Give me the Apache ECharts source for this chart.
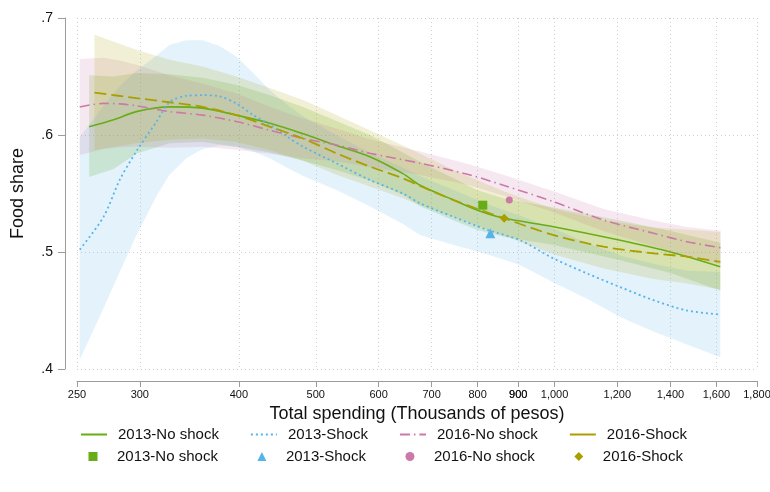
<!DOCTYPE html>
<html><head><meta charset="utf-8">
<script src="https://cdn.jsdelivr.net/npm/echarts@6/dist/echarts.min.js"></script>
<style>html,body{margin:0;padding:0;background:#fff}#c{width:770px;height:492px}</style>
</head><body><div id="c"></div>
<script>
// ---- tick labels ----
const xTickValues = [250,300,400,500,600,700,800,900,1000,1200,1400,1600,1800];
const yTickValues = [0.4,0.5,0.6,0.7];
const seriesNames = ['2013-No shock','2013-Shock','2016-No shock','2016-Shock'];

// ---- 2013-No shock ----
const x13n  = [259,278,297,327,360,397,438,482,531,585,644,677,746,798,862,997,1210,1400,1618];
const y13n  = [.607,.613,.620,.624,.623,.617,.610,.601,.591,.5815,.567,.557,.5444,.536,.529,.5216,.510,.500,.4873];
const hi13n = [.651,.650,.653,.652,.649,.643,.634,.624,.612,.600,.585,.577,.563,.553,.546,.538,.527,.518,.508];
const lo13n = [.564,.571,.584,.593,.594,.590,.585,.578,.570,.561,.549,.539,.527,.519,.513,.506,.493,.482,.467];

// ---- 2013-Shock ----
const x13s  = [252,270,283,297,315,327,343,360,378,397,417,438,460,482,531,585,644,677,746,822,905,997,1099,1210,1333,1469,1618];
const y13s  = [.502,.530,.5616,.586,.6115,.628,.6335,.634,.633,.627,.617,.6086,.5986,.590,.5759,.5616,.550,.5416,.530,.519,.510,.4945,.4817,.470,.4588,.450,.4466];
const hi13s = [.598,.625,.642,.655,.668,.677,.681,.681,.676,.667,.653,.638,.626,.616,.600,.585,.572,.565,.553,.541,.531,.520,.508,.497,.490,.484,.483];
const lo13s = [.408,.452,.483,.514,.548,.566,.580,.588,.591,.590,.586,.580,.572,.565,.553,.539,.524,.5145,.506,.498,.4888,.474,.460,.4445,.432,.421,.410];

// ---- 2016-No shock ----
const x16n  = [252,270,283,297,327,360,397,438,482,531,585,677,783,862,997,1153,1333,1469,1620];
const y16n  = [.624,.627,.6266,.625,.620,.617,.6115,.604,.597,.5915,.5844,.5759,.5658,.557,.543,.5273,.516,.5088,.5036];
const hi16n = [.665,.666,.6636,.660,.651,.644,.6355,.624,.614,.6055,.5964,.5859,.5748,.566,.552,.5368,.527,.5213,.5181];
const lo16n = [.583,.588,.5896,.590,.589,.590,.5875,.584,.580,.5775,.5724,.5659,.5568,.548,.534,.5178,.505,.4963,.4891];

// ---- 2016-Shock ----
const x16s  = [263,297,327,360,397,438,482,531,585,644,677,746,862,997,1153,1333,1469,1618];
const y16s  = [.6363,.6315,.628,.624,.617,.607,.597,.5844,.573,.563,.5564,.5444,.529,.5145,.5045,.4988,.496,.4916];
const hi16s = [.6857,.6729,.6643,.6586,.650,.640,.630,.617,.604,.591,.584,.570,.552,.537,.527,.521,.519,.517];
const lo16s = [.587,.593,.596,.597,.594,.587,.578,.566,.556,.546,.540,.530,.514,.498,.486,.477,.473,.468];

// ---- group means (markers) ----
const meanSpend = [812, 830, 877, 864];
const meanShare = [.540, .516, .5444, .5288];

const COLORS = ['#68ad17','#56b4e9','#cc79a7','#a9a000'];
const FONT = 'Liberation Sans, Arial, sans-serif';
const lg = Math.log10;

function band(xs, lo, hi, color, op) {
  return {
    type: 'custom', silent: true, z: 1, clip: true,
    data: xs.map((x, i) => [lg(x), lo[i], hi[i]]),
    encode: { x: 0, y: [1, 2] },
    renderItem: function (params, api) {
      if (params.dataIndex !== 0) return null;
      const pts = [];
      for (let i = 0; i < xs.length; i++) pts.push(api.coord([lg(xs[i]), hi[i]]));
      for (let i = xs.length - 1; i >= 0; i--) pts.push(api.coord([lg(xs[i]), lo[i]]));
      return { type: 'polygon', shape: { points: pts }, style: { fill: color, opacity: op } };
    }
  };
}
function line(name, xs, ys, color, type, width) {
  return {
    type: 'line', name: name, z: 3, symbol: 'none', smooth: 0.3,
    data: xs.map((x, i) => [lg(x), ys[i]]),
    lineStyle: { color: color, width: width, type: type, cap: 'butt' },
    itemStyle: { color: color }
  };
}
function pt(i, symbol, size) {
  return {
    type: 'scatter', name: 'pt|' + seriesNames[i], z: 4, symbol: symbol, symbolSize: size,
    data: [[lg(meanSpend[i]), meanShare[i]]],
    itemStyle: { color: COLORS[i], opacity: 1 }
  };
}

const chart = echarts.init(document.getElementById('c'), null, { renderer: 'canvas' });
const xTicksLog = xTickValues.map(lg);
const fmtX = v => Math.round(Math.pow(10, v)).toLocaleString('en-US');
const legendText1 = { fontSize: 15, color: '#111', fontFamily: FONT, padding: [0, 0, 0, 6] };
const legendText2 = { fontSize: 15, color: '#111', fontFamily: FONT, padding: [0, 0, 0, 14.5] };
chart.setOption({
  animation: false,
  backgroundColor: '#ffffff',
  textStyle: { fontFamily: FONT },
  grid: { left: 77, right: 13, top: 18, bottom: 123, containLabel: false, outerBoundsMode: 'none' },
  xAxis: [{
    type: 'value', min: lg(250), max: lg(1800), offset: 12, position: 'bottom',
    name: 'Total spending (Thousands of pesos)', nameLocation: 'middle', nameGap: 21,
    nameTextStyle: { fontSize: 18, color: '#111', fontFamily: FONT },
    axisLine: { show: true, lineStyle: { color: '#9c9c9c', width: 1 } },
    axisTick: { show: true, length: 6, customValues: xTicksLog, lineStyle: { color: '#9c9c9c' } },
    axisLabel: { customValues: xTicksLog, fontSize: 11, color: '#111', margin: 8,
      hideOverlap: false, interval: 0, formatter: fmtX },
    splitLine: { show: true, lineStyle: { color: '#cfcfcf', type: [1, 3], width: 1 } }
  }, {
    // companion axis: same scale, shows only the 900 label that gets dropped by auto layout
    type: 'value', min: lg(250), max: lg(1800), offset: 12, position: 'bottom',
    axisLine: { show: false }, axisTick: { show: false }, splitLine: { show: false },
    axisLabel: { customValues: [lg(900)], fontSize: 11, color: '#111', margin: 8, formatter: fmtX }
  }],
  yAxis: {
    type: 'value', min: 0.4, max: 0.7, interval: 0.1, offset: 12,
    name: 'Food share', nameLocation: 'middle', nameGap: 38,
    nameTextStyle: { fontSize: 18, color: '#111', fontFamily: FONT },
    axisLine: { show: true, lineStyle: { color: '#9c9c9c', width: 1 } },
    axisTick: { show: true, length: 7, lineStyle: { color: '#9c9c9c' } },
    axisLabel: { fontSize: 14, color: '#111', margin: 12,
      formatter: v => v.toFixed(1).replace(/^0/, '') },
    splitLine: { show: true, lineStyle: { color: '#cfcfcf', type: [1, 3], width: 1 } }
  },
  legend: [
    { top: 427, left: 80, padding: 0, itemGap: 31, itemWidth: 26, itemHeight: 9,
      selectedMode: false, textStyle: legendText1, itemStyle: { opacity: 0 },
      data: [
        { name: seriesNames[0] },
        { name: seriesNames[1] },
        { name: seriesNames[2] },
        { name: seriesNames[3], lineStyle: { type: 'solid' } }
      ] },
    { top: 449, left: 88.5, padding: 0, itemGap: 39.5, itemWidth: 9, itemHeight: 9,
      selectedMode: false, textStyle: legendText2,
      formatter: n => n.replace('pt|', ''),
      data: [
        { name: 'pt|' + seriesNames[0], icon: 'rect' },
        { name: 'pt|' + seriesNames[1], icon: 'triangle' },
        { name: 'pt|' + seriesNames[2], icon: 'circle' },
        { name: 'pt|' + seriesNames[3], icon: 'diamond' }
      ] }
  ],
  series: [
    band(x13n, lo13n, hi13n, COLORS[0], 0.2),
    band(x13s, lo13s, hi13s, COLORS[1], 0.17),
    band(x16n, lo16n, hi16n, COLORS[2], 0.17),
    band(x16s, lo16s, hi16s, COLORS[3], 0.16),
    line(seriesNames[0], x13n, y13n, COLORS[0], 'solid', 1.6),
    line(seriesNames[1], x13s, y13s, COLORS[1], [2, 3], 1.8),
    line(seriesNames[2], x16n, y16n, COLORS[2], [10, 4, 1.5, 4], 1.6),
    line(seriesNames[3], x16s, y16s, COLORS[3], [12, 5], 1.8),
    pt(0, 'rect', 9),
    pt(1, 'triangle', 10),
    pt(2, 'circle', 7),
    pt(3, 'diamond', 9)
  ]
});
</script></body></html>
